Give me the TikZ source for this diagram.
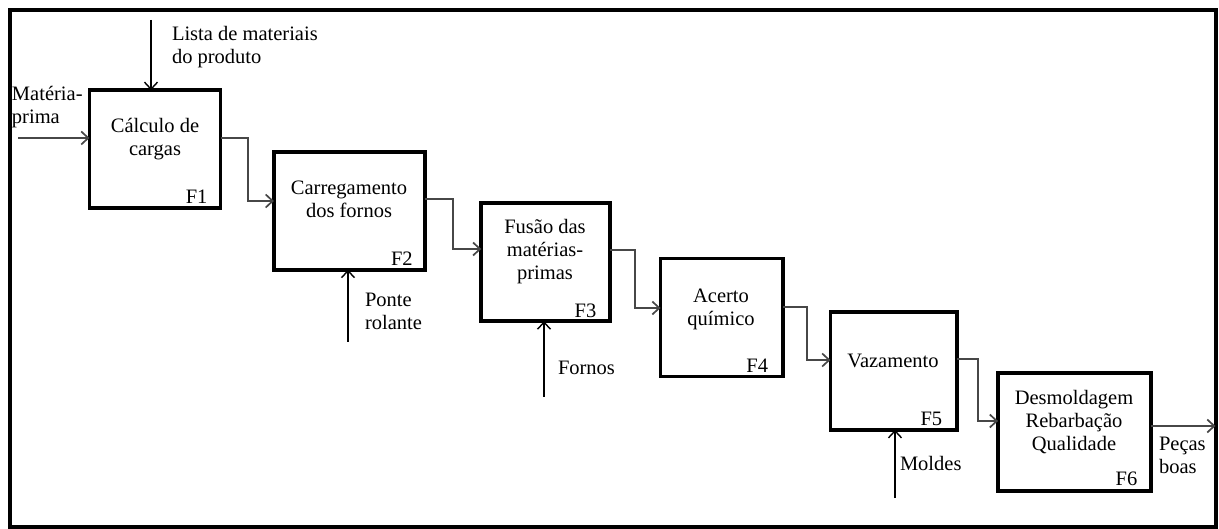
\documentclass[tikz,border=0pt]{standalone}
\usepackage{fontspec}
\setmainfont{Liberation Serif}
\usetikzlibrary{arrows.meta}
\begin{document}
\begin{tikzpicture}[x=1pt,y=-1pt,
  every node/.style={inner sep=0pt, outer sep=0pt},
  txt/.style={font=\fontsize{20.5}{23}\selectfont, align=center, anchor=base},
  ltxt/.style={font=\fontsize{20.5}{23}\selectfont, align=left, anchor=base west},
  stage/.style={draw, line width=3.8pt, rectangle, minimum height=118pt},
  flabel/.style={font=\fontsize{20.5}{23}\selectfont, anchor=base east},
  link/.style={draw=black!72, line width=1.7pt, -{Straight Barb[length=7pt,width=13pt]}},
  feed/.style={draw=black, line width=1.4pt, -{Straight Barb[length=7pt,width=13pt]}},
]
\useasboundingbox (0,0) rectangle (1219,529);
% outer frame
\node[draw, line width=4pt, minimum width=1206pt, minimum height=516.7pt] (frame) at (612.5,268.6) {};

% process stages
\node[stage, minimum width=131pt]   (f1) at (155,149.2) {};
\node[stage, minimum width=150.7pt] (f2) at (349.3,210.7) {};
\node[stage, minimum width=129pt]   (f3) at (545.8,262.2) {};
\node[stage, minimum width=122.5pt] (f4) at (721.8,317.6) {};
\node[stage, minimum width=126.7pt] (f5) at (893.8,370.8) {};
\node[stage, minimum width=153.3pt] (f6) at (1074.7,431.7) {};

% stage titles (positioned on the baseline of their last line)
\node[txt] (t1) at (155,156) {Cálculo de\\cargas};
\node[txt] (t2) at (349,218) {Carregamento\\dos fornos};
\node[txt] (t3) at (545,280) {Fusão das\\matérias-\\primas};
\node[txt] (t4) at (721,326) {Acerto\\químico};
\node[txt] (t5) at (893,368) {Vazamento};
\node[txt] (t6) at (1074,450) {Desmoldagem\\Rebarbação\\Qualidade};

% stage numbers
\node[flabel] (n1) at ([xshift=-13pt,yshift=5pt]f1.south east) {F1};
\node[flabel] (n2) at ([xshift=-12pt,yshift=4pt]f2.south east) {F2};
\node[flabel] (n3) at ([xshift=-14pt,yshift=4pt]f3.south east) {F3};
\node[flabel] (n4) at ([xshift=-15pt,yshift=4pt]f4.south east) {F4};
\node[flabel] (n5) at ([xshift=-15pt,yshift=4pt]f5.south east) {F5};
\node[flabel] (n6) at ([xshift=-14pt,yshift=5pt]f6.south east) {F6};

% external inputs and outputs
\node[ltxt] (lista) at (172,64) {Lista de materiais\\do produto};
\node[ltxt] (mp) at (12,124) {Matéria-\\prima};
\node[ltxt] (ponte) at (365,330) {Ponte\\rolante};
\node[ltxt] (fornos) at (558,375) {Fornos};
\node[ltxt] (moldes) at (900,470) {Moldes};
\node[ltxt] (pecas) at (1159,473) {Peças\\boas};

\coordinate (listaIn) at (151,20);
\coordinate (mpIn) at (18,138);
\coordinate (ponteIn) at (348,342);
\coordinate (fornosIn) at (544,397);
\coordinate (moldesIn) at (895,498);

\draw[feed] (listaIn) -- (listaIn |- f1.north);
\draw[link] (mpIn) -- (mpIn -| f1.west);
\draw[feed] (ponteIn) -- (ponteIn |- f2.south);
\draw[feed] (fornosIn) -- (fornosIn |- f3.south);
\draw[feed] (moldesIn) -- (moldesIn |- f5.south);

% flow between stages
\draw[link] (f1.east |- 0,138) -- (248,138) |- (f2.west |- 0,201);
\draw[link] (f2.east |- 0,199) -- (453,199) |- (f3.west |- 0,249);
\draw[link] (f3.east |- 0,250) -- (635,250) |- (f4.west |- 0,308);
\draw[link] (f4.east |- 0,307) -- (807,307) |- (f5.west |- 0,360);
\draw[link] (f5.east |- 0,359) -- (978,359) |- (f6.west |- 0,421);
\draw[link] (f6.east |- 0,426) -- (frame.east |- 0,426);
\end{tikzpicture}
\end{document}
